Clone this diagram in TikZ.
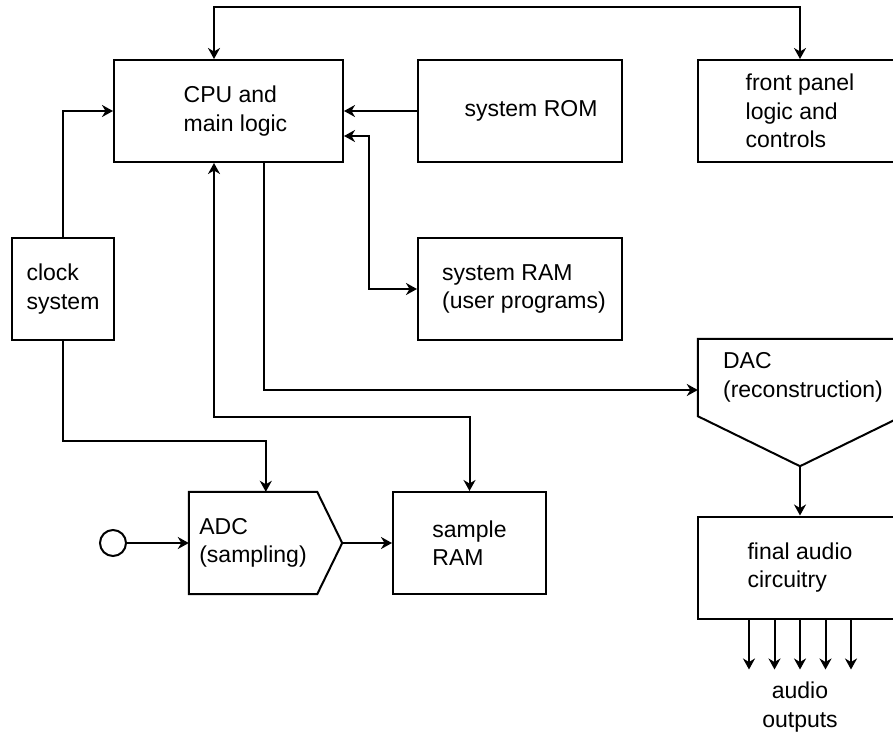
\documentclass[tikz,border=0pt]{standalone}
\usepackage{fontspec}
\setmainfont{Liberation Sans}
\usetikzlibrary{arrows.meta,positioning,calc}
\tikzset{
  blok/.style={rectangle, draw=black, line width=2pt, align=left,
               minimum width=#1, minimum height=102, inner sep=0pt},
  sigbox/.style={rectangle, draw=none, align=left, inner sep=0pt},
  arr/.style={-{Stealth[length=11pt, width=12pt, inset=3.5pt]}, line width=2pt},
  barr/.style={{Stealth[length=11pt, width=12pt, inset=3.5pt]}-{Stealth[length=11pt, width=12pt, inset=3.5pt]}, line width=2pt},
}

\begin{document}
\begin{tikzpicture}[x=1pt, y=-1pt, font=\fontsize{23}{28.5}\selectfont, line join=miter]
    \path[fill=white, use as bounding box] (0,0) rectangle (893,734);
    % boxes
    \node[blok=229] (cpu) at (228.5,111) {\hspace*{14pt}CPU and\\\hspace*{14pt}main logic};
    \node[blok=204] (rom) at (520,111) {\hspace*{22pt}system ROM};
    \node[blok=204] (fp) at (800,111) {front panel\\logic and\\controls};
    \node[blok=102] (clk) at (63,289) {clock\\system};
    \node[blok=204] (ram) at (520,289) {\hspace*{8pt}system RAM\\\hspace*{8pt}(user programs)};
    \node[sigbox, minimum width=128, minimum height=102] (adc) at (253,543) {ADC\\(sampling)};
    \node[blok=153] (sram) at (469.5,543) {sample\\RAM};
    \node[sigbox, minimum width=204, minimum height=77] (dac) at (800,377.5) {\hspace*{6pt}DAC\\\hspace*{6pt}(reconstruction)};
    \node[blok=204] (fa) at (800,567.5) {final audio\\circuitry};
    \node[circle, draw, line width=2pt, minimum size=26, inner sep=0pt] (in) at (113,543) {};
    \node[align=center, inner sep=0pt] (outs) at (800,707) {audio\\outputs};
    % pointed outlines
    \coordinate (adctip) at ($(adc.east)+(25,0)$);
    \coordinate (dactip) at ($(dac.south)+(0,50)$);
    \draw[line width=2pt] (adc.north west) -- (adc.north east) -- (adctip) -- (adc.south east) -- (adc.south west) -- cycle;
    \draw[line width=2pt] (dac.south west) -- (dac.north west) -- (dac.north east) -- (dac.south east) -- (dactip) -- cycle;
    % connectors
    \draw[barr] ($(cpu.north west)+(101,0)$) -- ++(0,-52) -| (fp.north);
    \draw[arr] (clk.north) |- (cpu.west);
    \draw[arr] (rom.west) -- (cpu.east);
    \draw[barr] ($(cpu.east)+(0,25)$) -- ++(25,0) |- (ram.west);
    \draw[arr] ($(cpu.south west)+(151,0)$) |- ($(dac.west)+(0,12.5)$);
    \draw[barr] ($(cpu.south west)+(101,0)$) -- ++(0,254) -| (sram.north);
    \draw[arr] (clk.south) -- ++(0,100) -| ($(adc.north west)+(77,0)$);
    \draw[arr] (in.east) -- (adc.west);
    \draw[arr] (adctip) -- (sram.west);
    \draw[arr] (dactip) -- (fa.north);
    \foreach \dx in {-51,-25.5,0,25.5,51}
      \draw[arr] ($(fa.south)+(\dx,0)$) -- ++(0,50);
  \end{tikzpicture}
\end{document}
